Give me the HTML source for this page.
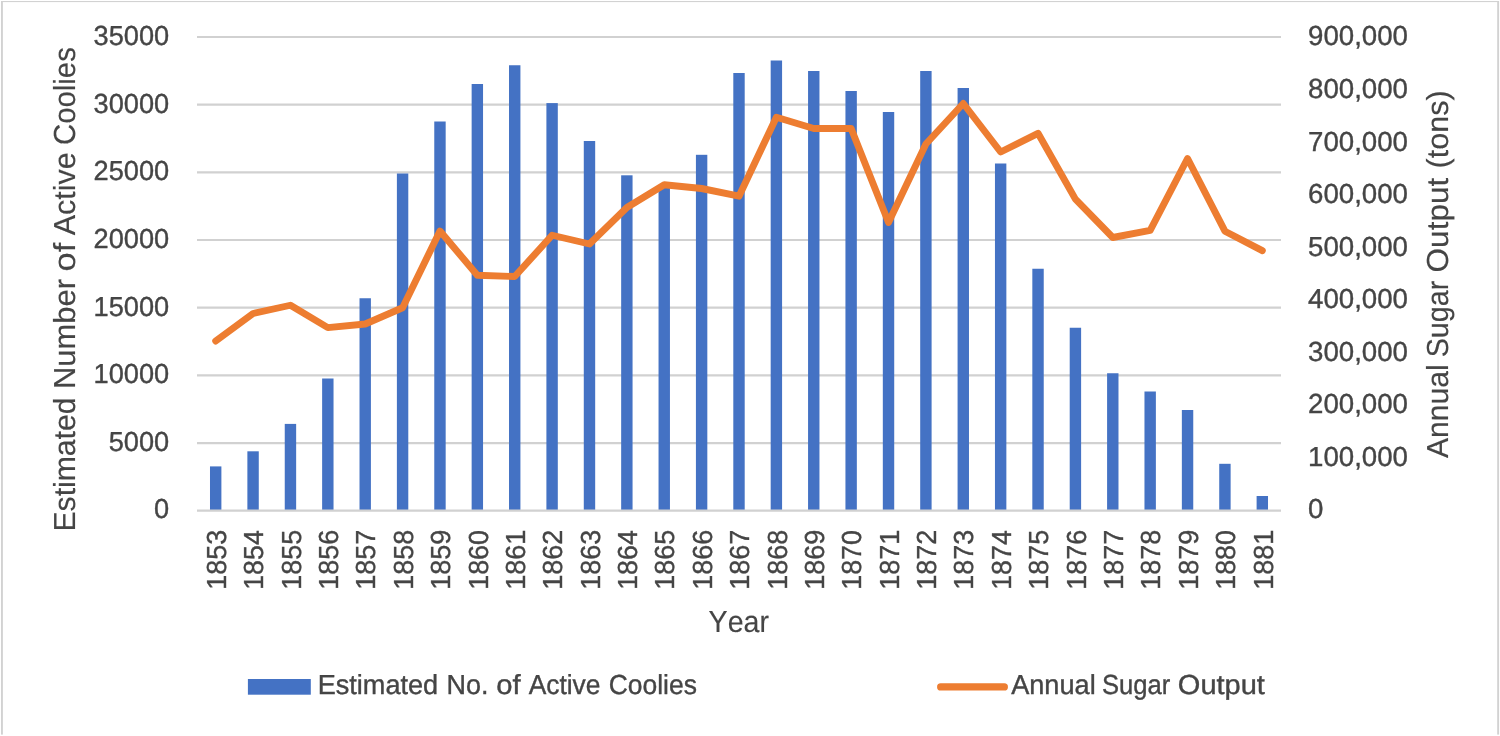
<!DOCTYPE html>
<html lang="en"><head><meta charset="utf-8"><title>Estimated Number of Active Coolies and Annual Sugar Output</title>
<style>html,body{margin:0;padding:0;background:#fff}body{width:1500px;height:736px;overflow:hidden}svg{display:block}text{font-family:"Liberation Sans",Arial,sans-serif;fill:#454545;font-kerning:none;text-rendering:geometricPrecision;stroke:#454545;stroke-width:0.38px}.t{stroke-width:0.15px}</style></head><body>
<svg width="1500" height="736" viewBox="0 0 1500 736">
<rect width="1500" height="736" fill="#fff"/>
<g fill="#d2d2d2"><rect x="1" y="1" width="1.9" height="733.6"/><rect x="1497.2" y="1" width="1.9" height="733.6"/><rect x="1" y="1" width="1498" height="1.1"/></g>
<g stroke="#d1d1d1" stroke-width="2.2">
<line x1="197.0" y1="443.03" x2="1281.0" y2="443.03"/>
<line x1="197.0" y1="375.36" x2="1281.0" y2="375.36"/>
<line x1="197.0" y1="307.69" x2="1281.0" y2="307.69"/>
<line x1="197.0" y1="240.02" x2="1281.0" y2="240.02"/>
<line x1="197.0" y1="172.35" x2="1281.0" y2="172.35"/>
<line x1="197.0" y1="104.68" x2="1281.0" y2="104.68"/>
<line x1="197.0" y1="37.01" x2="1281.0" y2="37.01"/>
</g>
<g fill="#4472c4">
<rect x="209.99" y="466.40" width="11.40" height="44.30"/>
<rect x="247.37" y="451.30" width="11.40" height="59.40"/>
<rect x="284.75" y="423.90" width="11.40" height="86.80"/>
<rect x="322.13" y="378.50" width="11.40" height="132.20"/>
<rect x="359.51" y="298.25" width="11.40" height="212.45"/>
<rect x="396.89" y="173.50" width="11.40" height="337.20"/>
<rect x="434.27" y="121.50" width="11.40" height="389.20"/>
<rect x="471.64" y="84.00" width="11.40" height="426.70"/>
<rect x="509.02" y="65.25" width="11.40" height="445.45"/>
<rect x="546.40" y="103.10" width="11.40" height="407.60"/>
<rect x="583.78" y="141.00" width="11.40" height="369.70"/>
<rect x="621.16" y="175.30" width="11.40" height="335.40"/>
<rect x="658.54" y="186.00" width="11.40" height="324.70"/>
<rect x="695.92" y="154.80" width="11.40" height="355.90"/>
<rect x="733.30" y="73.00" width="11.40" height="437.70"/>
<rect x="770.68" y="60.50" width="11.40" height="450.20"/>
<rect x="808.06" y="71.00" width="11.40" height="439.70"/>
<rect x="845.44" y="91.00" width="11.40" height="419.70"/>
<rect x="882.82" y="112.00" width="11.40" height="398.70"/>
<rect x="920.20" y="71.00" width="11.40" height="439.70"/>
<rect x="957.58" y="88.00" width="11.40" height="422.70"/>
<rect x="994.96" y="163.50" width="11.40" height="347.20"/>
<rect x="1032.33" y="268.75" width="11.40" height="241.95"/>
<rect x="1069.71" y="327.75" width="11.40" height="182.95"/>
<rect x="1107.09" y="373.25" width="11.40" height="137.45"/>
<rect x="1144.47" y="391.50" width="11.40" height="119.20"/>
<rect x="1181.85" y="410.00" width="11.40" height="100.70"/>
<rect x="1219.23" y="463.80" width="11.40" height="46.90"/>
<rect x="1256.61" y="496.00" width="11.40" height="14.70"/>
</g>
<line x1="197.0" y1="510.70" x2="1281.0" y2="510.70" stroke="#d1d1d1" stroke-width="2.2"/>
<polyline points="215.69,341.00 253.07,313.50 290.45,305.25 327.83,327.60 365.21,324.00 402.59,307.75 439.97,231.00 477.34,275.25 514.72,276.50 552.10,235.25 589.48,244.00 626.86,207.50 664.24,184.80 701.62,188.50 739.00,196.20 776.38,117.20 813.76,128.50 851.14,128.50 888.52,222.50 925.90,144.00 963.28,103.50 1000.66,152.00 1038.03,133.30 1075.41,199.10 1112.79,237.50 1150.17,230.40 1187.55,158.50 1224.93,231.20 1262.31,250.60" fill="none" stroke="#ed7d31" stroke-width="6.9" stroke-linecap="round" stroke-linejoin="round"/>
<g id="yaxis-left">
<text x="154.12" y="518.30" font-size="27.50" textLength="15.14" lengthAdjust="spacingAndGlyphs">0</text>
<text x="108.70" y="450.73" font-size="27.50" textLength="60.56" lengthAdjust="spacingAndGlyphs">5000</text>
<text x="93.56" y="383.16" font-size="27.50" textLength="75.70" lengthAdjust="spacingAndGlyphs">10000</text>
<text x="93.56" y="315.59" font-size="27.50" textLength="75.70" lengthAdjust="spacingAndGlyphs">15000</text>
<text x="93.56" y="248.02" font-size="27.50" textLength="75.70" lengthAdjust="spacingAndGlyphs">20000</text>
<text x="93.56" y="180.45" font-size="27.50" textLength="75.70" lengthAdjust="spacingAndGlyphs">25000</text>
<text x="93.56" y="112.88" font-size="27.50" textLength="75.70" lengthAdjust="spacingAndGlyphs">30000</text>
<text x="93.56" y="45.31" font-size="27.50" textLength="75.70" lengthAdjust="spacingAndGlyphs">35000</text>
</g>
<g id="yaxis-right">
<text x="1308.02" y="518.30" font-size="27.50" textLength="15.38" lengthAdjust="spacingAndGlyphs">0</text>
<text x="1308.02" y="465.76" font-size="27.50" textLength="99.98" lengthAdjust="spacingAndGlyphs">100,000</text>
<text x="1308.02" y="413.22" font-size="27.50" textLength="99.98" lengthAdjust="spacingAndGlyphs">200,000</text>
<text x="1308.02" y="360.68" font-size="27.50" textLength="99.98" lengthAdjust="spacingAndGlyphs">300,000</text>
<text x="1308.02" y="308.14" font-size="27.50" textLength="99.98" lengthAdjust="spacingAndGlyphs">400,000</text>
<text x="1308.02" y="255.60" font-size="27.50" textLength="99.98" lengthAdjust="spacingAndGlyphs">500,000</text>
<text x="1308.02" y="203.06" font-size="27.50" textLength="99.98" lengthAdjust="spacingAndGlyphs">600,000</text>
<text x="1308.02" y="150.52" font-size="27.50" textLength="99.98" lengthAdjust="spacingAndGlyphs">700,000</text>
<text x="1308.02" y="97.98" font-size="27.50" textLength="99.98" lengthAdjust="spacingAndGlyphs">800,000</text>
<text x="1308.02" y="45.44" font-size="27.50" textLength="99.98" lengthAdjust="spacingAndGlyphs">900,000</text>
</g>
<g id="xaxis">
<text transform="translate(225.89,0) rotate(-90)" x="-589.80" y="0" font-size="27.50" textLength="59.99" lengthAdjust="spacingAndGlyphs">1853</text>
<text transform="translate(263.27,0) rotate(-90)" x="-589.79" y="0" font-size="27.50" textLength="59.57" lengthAdjust="spacingAndGlyphs">1854</text>
<text transform="translate(300.65,0) rotate(-90)" x="-589.80" y="0" font-size="27.50" textLength="59.93" lengthAdjust="spacingAndGlyphs">1855</text>
<text transform="translate(338.03,0) rotate(-90)" x="-589.80" y="0" font-size="27.50" textLength="59.99" lengthAdjust="spacingAndGlyphs">1856</text>
<text transform="translate(375.41,0) rotate(-90)" x="-589.81" y="0" font-size="27.50" textLength="60.17" lengthAdjust="spacingAndGlyphs">1857</text>
<text transform="translate(412.79,0) rotate(-90)" x="-589.80" y="0" font-size="27.50" textLength="59.98" lengthAdjust="spacingAndGlyphs">1858</text>
<text transform="translate(450.17,0) rotate(-90)" x="-589.81" y="0" font-size="27.50" textLength="60.09" lengthAdjust="spacingAndGlyphs">1859</text>
<text transform="translate(487.54,0) rotate(-90)" x="-589.80" y="0" font-size="27.50" textLength="59.85" lengthAdjust="spacingAndGlyphs">1860</text>
<text transform="translate(524.92,0) rotate(-90)" x="-589.81" y="0" font-size="27.50" textLength="60.13" lengthAdjust="spacingAndGlyphs">1861</text>
<text transform="translate(562.30,0) rotate(-90)" x="-589.81" y="0" font-size="27.50" textLength="60.17" lengthAdjust="spacingAndGlyphs">1862</text>
<text transform="translate(599.68,0) rotate(-90)" x="-589.80" y="0" font-size="27.50" textLength="59.99" lengthAdjust="spacingAndGlyphs">1863</text>
<text transform="translate(637.06,0) rotate(-90)" x="-589.79" y="0" font-size="27.50" textLength="59.57" lengthAdjust="spacingAndGlyphs">1864</text>
<text transform="translate(674.44,0) rotate(-90)" x="-589.80" y="0" font-size="27.50" textLength="59.93" lengthAdjust="spacingAndGlyphs">1865</text>
<text transform="translate(711.82,0) rotate(-90)" x="-589.80" y="0" font-size="27.50" textLength="59.99" lengthAdjust="spacingAndGlyphs">1866</text>
<text transform="translate(749.20,0) rotate(-90)" x="-589.81" y="0" font-size="27.50" textLength="60.17" lengthAdjust="spacingAndGlyphs">1867</text>
<text transform="translate(786.58,0) rotate(-90)" x="-589.80" y="0" font-size="27.50" textLength="59.98" lengthAdjust="spacingAndGlyphs">1868</text>
<text transform="translate(823.96,0) rotate(-90)" x="-589.81" y="0" font-size="27.50" textLength="60.09" lengthAdjust="spacingAndGlyphs">1869</text>
<text transform="translate(861.34,0) rotate(-90)" x="-589.80" y="0" font-size="27.50" textLength="59.85" lengthAdjust="spacingAndGlyphs">1870</text>
<text transform="translate(898.72,0) rotate(-90)" x="-589.81" y="0" font-size="27.50" textLength="60.13" lengthAdjust="spacingAndGlyphs">1871</text>
<text transform="translate(936.10,0) rotate(-90)" x="-589.81" y="0" font-size="27.50" textLength="60.17" lengthAdjust="spacingAndGlyphs">1872</text>
<text transform="translate(973.48,0) rotate(-90)" x="-589.80" y="0" font-size="27.50" textLength="59.99" lengthAdjust="spacingAndGlyphs">1873</text>
<text transform="translate(1010.86,0) rotate(-90)" x="-589.79" y="0" font-size="27.50" textLength="59.57" lengthAdjust="spacingAndGlyphs">1874</text>
<text transform="translate(1048.23,0) rotate(-90)" x="-589.80" y="0" font-size="27.50" textLength="59.93" lengthAdjust="spacingAndGlyphs">1875</text>
<text transform="translate(1085.61,0) rotate(-90)" x="-589.80" y="0" font-size="27.50" textLength="59.99" lengthAdjust="spacingAndGlyphs">1876</text>
<text transform="translate(1122.99,0) rotate(-90)" x="-589.81" y="0" font-size="27.50" textLength="60.17" lengthAdjust="spacingAndGlyphs">1877</text>
<text transform="translate(1160.37,0) rotate(-90)" x="-589.80" y="0" font-size="27.50" textLength="59.98" lengthAdjust="spacingAndGlyphs">1878</text>
<text transform="translate(1197.75,0) rotate(-90)" x="-589.81" y="0" font-size="27.50" textLength="60.09" lengthAdjust="spacingAndGlyphs">1879</text>
<text transform="translate(1235.13,0) rotate(-90)" x="-589.80" y="0" font-size="27.50" textLength="59.85" lengthAdjust="spacingAndGlyphs">1880</text>
<text transform="translate(1272.51,0) rotate(-90)" x="-589.81" y="0" font-size="27.50" textLength="60.13" lengthAdjust="spacingAndGlyphs">1881</text>
</g>
<text class="t" transform="translate(75.30,0) rotate(-90)" y="0" font-size="30.40"><tspan x="-531.57" textLength="134.12" lengthAdjust="spacingAndGlyphs">Estimated</tspan> <tspan x="-389.14" textLength="110.26" lengthAdjust="spacingAndGlyphs">Number</tspan> <tspan x="-271.44" textLength="28.64" lengthAdjust="spacingAndGlyphs">of</tspan> <tspan x="-235.31" textLength="82.91" lengthAdjust="spacingAndGlyphs">Active</tspan> <tspan x="-144.99" textLength="97.85" lengthAdjust="spacingAndGlyphs">Coolies</tspan></text>
<text class="t" transform="translate(1447.50,0) rotate(-90)" y="0" font-size="30.40"><tspan x="-458.06" textLength="93.82" lengthAdjust="spacingAndGlyphs">Annual</tspan> <tspan x="-357.30" textLength="76.53" lengthAdjust="spacingAndGlyphs">Sugar</tspan> <tspan x="-272.50" textLength="94.83" lengthAdjust="spacingAndGlyphs">Output</tspan> <tspan x="-168.40" textLength="78.19" lengthAdjust="spacingAndGlyphs">(tons)</tspan></text>
<text class="t" y="631.60" font-size="30.40"><tspan x="708.62" textLength="60.35" lengthAdjust="spacingAndGlyphs">Year</tspan></text>
<rect x="247.9" y="679" width="62.9" height="15.7" fill="#4472c4"/>
<text y="694.20" font-size="27.50"><tspan x="317.68" textLength="120.47" lengthAdjust="spacingAndGlyphs">Estimated</tspan> <tspan x="446.49" textLength="41.98" lengthAdjust="spacingAndGlyphs">No.</tspan> <tspan x="496.27" textLength="24.38" lengthAdjust="spacingAndGlyphs">of</tspan> <tspan x="528.65" textLength="71.82" lengthAdjust="spacingAndGlyphs">Active</tspan> <tspan x="608.66" textLength="88.30" lengthAdjust="spacingAndGlyphs">Coolies</tspan></text>
<line x1="940.7" y1="686.9" x2="1004.3" y2="686.9" stroke="#ed7d31" stroke-width="7.3" stroke-linecap="round"/>
<text y="694.20" font-size="27.50"><tspan x="1011.15" textLength="84.57" lengthAdjust="spacingAndGlyphs">Annual</tspan> <tspan x="1102.04" textLength="68.29" lengthAdjust="spacingAndGlyphs">Sugar</tspan> <tspan x="1177.83" textLength="87.09" lengthAdjust="spacingAndGlyphs">Output</tspan></text>
</svg></body></html>
